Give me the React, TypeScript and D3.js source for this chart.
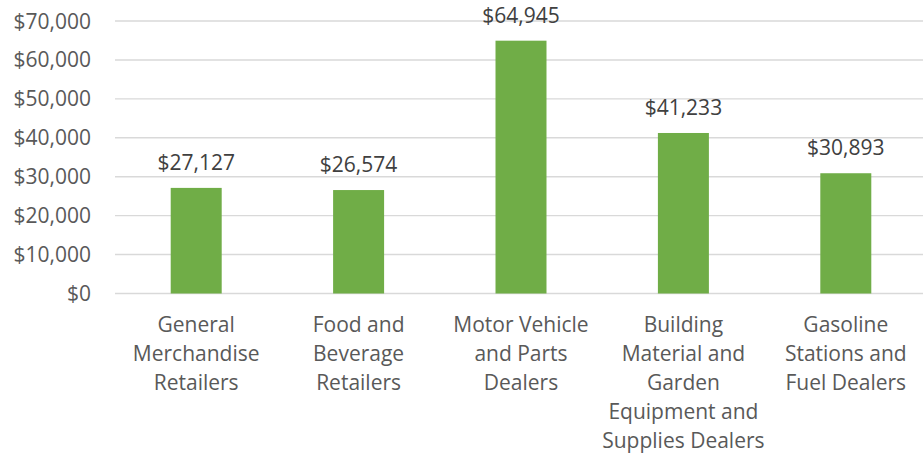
import * as d3 from "d3";
import { useEffect, useRef } from "react";

// categories (wrapped the way the chart shows them)
const categories = [
  "General Merchandise Retailers",
  "Food and Beverage Retailers",
  "Motor Vehicle and Parts Dealers",
  "Building Material and Garden Equipment and Supplies Dealers",
  "Gasoline Stations and Fuel Dealers",
];
const categoryLines = [
  ["General", "Merchandise", "Retailers"],
  ["Food and", "Beverage", "Retailers"],
  ["Motor Vehicle", "and Parts", "Dealers"],
  ["Building", "Material and", "Garden", "Equipment and", "Supplies Dealers"],
  ["Gasoline", "Stations and", "Fuel Dealers"],
];
const values = [27127, 26574, 64945, 41233, 30893];
const yTicks = [0, 10000, 20000, 30000, 40000, 50000, 60000, 70000];

function App() {
  const ref = useRef<SVGSVGElement>(null);

  useEffect(() => {
    const width = 923,
      height = 455;
    const font = "'Open Sans', sans-serif";
    const fontSize = 21;

    const svg = d3.select(ref.current);
    svg.selectAll("*").remove();

    const x = d3.scaleBand<string>().domain(categories).range([115, 927]).padding(0);
    const y = d3.scaleLinear().domain([0, 70000]).range([293.5, 21]);
    const barW = x.bandwidth() * 0.314;
    const money = (v: number) => "$" + d3.format(",")(v);

    // gridlines
    svg
      .append("g")
      .selectAll("line")
      .data(yTicks)
      .enter()
      .append("line")
      .attr("x1", 115)
      .attr("x2", width)
      .attr("y1", (d) => y(d))
      .attr("y2", (d) => y(d))
      .attr("stroke", "#d9d9d9")
      .attr("stroke-width", 1.4);

    // y tick labels
    svg
      .append("g")
      .selectAll("text")
      .data(yTicks)
      .enter()
      .append("text")
      .attr("x", 91)
      .attr("y", (d) => y(d))
      .attr("dy", "0.36em")
      .attr("text-anchor", "end")
      .attr("font-family", font)
      .attr("font-size", fontSize)
      .attr("fill", "#595959")
      .text((d) => money(d));

    // bars
    svg
      .append("g")
      .selectAll("rect")
      .data(values)
      .enter()
      .append("rect")
      .attr("x", (d, i) => x(categories[i])! + (x.bandwidth() - barW) / 2)
      .attr("y", (d) => y(d))
      .attr("width", barW)
      .attr("height", (d) => y(0) - y(d))
      .attr("fill", "#70ad47");

    // data labels
    svg
      .append("g")
      .selectAll("text")
      .data(values)
      .enter()
      .append("text")
      .attr("x", (d, i) => x(categories[i])! + x.bandwidth() / 2)
      .attr("y", (d) => y(d) - 18)
      .attr("text-anchor", "middle")
      .attr("font-family", font)
      .attr("font-size", fontSize)
      .attr("fill", "#404040")
      .text((d) => money(d));

    // category labels
    const cats = svg
      .append("g")
      .selectAll("text")
      .data(categoryLines)
      .enter()
      .append("text")
      .attr("text-anchor", "middle")
      .attr("font-family", font)
      .attr("font-size", fontSize)
      .attr("fill", "#595959");

    cats
      .selectAll("tspan")
      .data((d, i) => d.map((line) => ({ line, i })))
      .enter()
      .append("tspan")
      .attr("x", (d) => x(categories[d.i])! + x.bandwidth() / 2)
      .attr("y", (d, j) => 332 + j * 29)
      .text((d) => d.line);

    svg.attr("width", width).attr("height", height);
  }, []);

  return (
    <svg
      ref={ref}
      style={{ position: "absolute", left: 0, top: 0, background: "#fff" }}
    ></svg>
  );
}

export default App;
